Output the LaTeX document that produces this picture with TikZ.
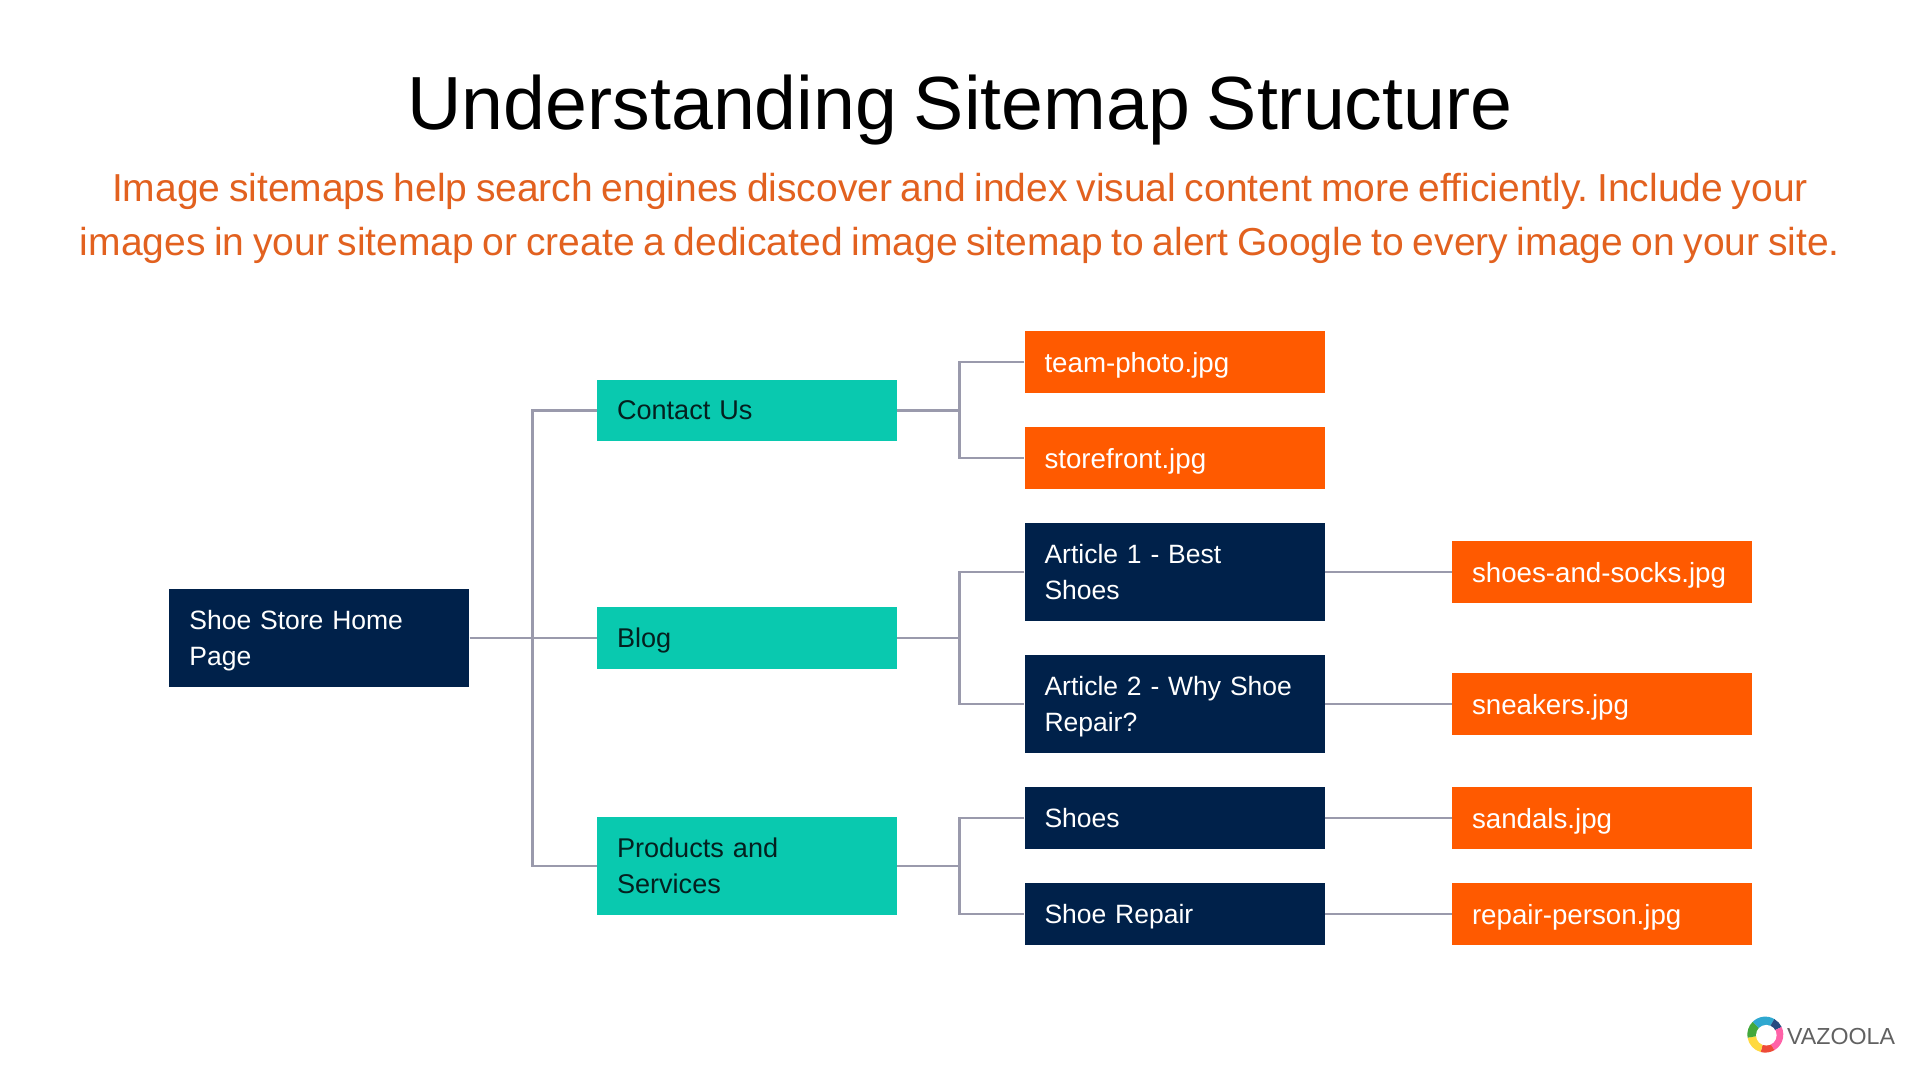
\documentclass[tikz,border=0pt]{standalone}
\usepackage{fontspec}
\setmainfont{Liberation Sans}[WordSpace=0.8]
\definecolor{navy}{HTML}{00214A}
\definecolor{teal2}{HTML}{09C9AF}
\definecolor{orng}{HTML}{FF5A00}
\definecolor{subc}{HTML}{E2611F}
\definecolor{linec}{HTML}{9A9AAC}
\definecolor{tealtext}{HTML}{04201F}
\newcommand{\st}{\rule[-9pt]{0pt}{36pt}}
\newcommand{\sto}{\rule[-8pt]{0pt}{36pt}}
\tikzset{
  bx/.style={rectangle,draw=none,minimum width=300pt,text width=260pt,inner xsep=20pt,inner ysep=0pt,align=left,font=\fontsize{26.5}{36}\selectfont},
  navybox/.style={bx,fill=navy,text=white},
  tealbox/.style={bx,fill=teal2,text=tealtext,font=\fontsize{27.1}{36}\selectfont},
  orangebox/.style={bx,fill=orng,text=white,font=\fontsize{27.7}{36}\selectfont},
  h62/.style={minimum height=61.5pt},
  h98/.style={minimum height=97.5pt},
  conn/.style={draw=linec,line width=2.8pt},
}
\begin{document}
\frenchspacing
\begin{tikzpicture}[x=1pt,y=-1pt]
\useasboundingbox (0,0) rectangle (1920,1080);
\fill[white] (0,0) rectangle (1920,1080);
\node[anchor=base,inner sep=0pt,font=\fontsize{75.3}{80}\selectfont] (title) at (960,129.5) {Understanding Sitemap Structure};
\node[anchor=base,inner sep=0pt,text=subc,font=\fontsize{39}{54}\selectfont] (sub1) at (960,201.5) {Image sitemaps help search engines discover and index visual content more efficiently. Include your};
\node[anchor=base,inner sep=0pt,text=subc,font=\fontsize{39}{54}\selectfont] (sub2) at (960,255.5) {images in your sitemap or create a dedicated image sitemap to alert Google to every image on your site.};

\node[navybox,h98] (home) at (319.4,638) {\st Shoe Store Home\\\st Page};
\node[tealbox,h62] (contact) at (747,410.3) {\st Contact Us};
\node[tealbox,h62] (blog) at (747,638) {\st Blog};
\node[tealbox,h98] (products) at (747,866) {\st Products and\\\st Services};
\node[orangebox,h62] (team) at (1174.5,362) {\sto team-photo.jpg};
\node[orangebox,h62] (store) at (1174.5,458) {\sto storefront.jpg};
\node[navybox,h98] (art1) at (1174.5,572) {\st Article 1 - Best\\\st Shoes};
\node[navybox,h98] (art2) at (1174.5,704) {\st Article 2 - Why Shoe\\\st Repair?};
\node[navybox,h62] (shoes) at (1174.5,818) {\st Shoes};
\node[navybox,h62] (repair) at (1174.5,914) {\st Shoe Repair};
\node[orangebox,h62] (socks) at (1602,572) {\sto shoes-and-socks.jpg};
\node[orangebox,h62] (sneak) at (1602,704) {\sto sneakers.jpg};
\node[orangebox,h62] (sandals) at (1602,818) {\sto sandals.jpg};
\node[orangebox,h62] (person) at (1602,914) {\sto repair-person.jpg};

\coordinate (j0) at (532.6,638);
\coordinate (j1) at (959.4,410.3);
\coordinate (j2) at (959.4,638);
\coordinate (j3) at (959.4,866);
\draw[conn] (home.east) -- (blog.west);
\draw[conn] (contact.west) -| (j0) |- (products.west);
\draw[conn] (contact.east) -- (j1);
\draw[conn] (team.west) -| (j1) |- (store.west);
\draw[conn] (blog.east) -- (j2);
\draw[conn] (art1.west) -| (j2) |- (art2.west);
\draw[conn] (products.east) -- (j3);
\draw[conn] (shoes.west) -| (j3) |- (repair.west);
\draw[conn] (art1.east) -- (socks.west);
\draw[conn] (art2.east) -- (sneak.west);
\draw[conn] (shoes.east) -- (sandals.west);
\draw[conn] (repair.east) -- (person.west);

% logo
\coordinate (lc) at (1765.3,1034.6);
\coordinate (li) at (1766.3,1035.2);
\foreach \a/\b/\c in {60/135/2FA8D0,25/60/274A80,-60/25/FF62A8,-105/-60/EE4A38,-170/-105/FFD940,-225/-170/43A83C}{
  \definecolor{tmpc}{HTML}{\c}
  \fill[tmpc] (lc) -- ([shift={(\a:18pt)}]lc) arc[start angle=\a,end angle=\b,radius=18pt] -- cycle;
}
\fill[white] (li) circle[radius=10.3pt];
\node[anchor=base west,inner sep=0pt,text=black!62,font=\fontsize{23.2}{26}\selectfont] (vaz) at (1787,1044) {VAZOOLA};
\end{tikzpicture}
\end{document}
